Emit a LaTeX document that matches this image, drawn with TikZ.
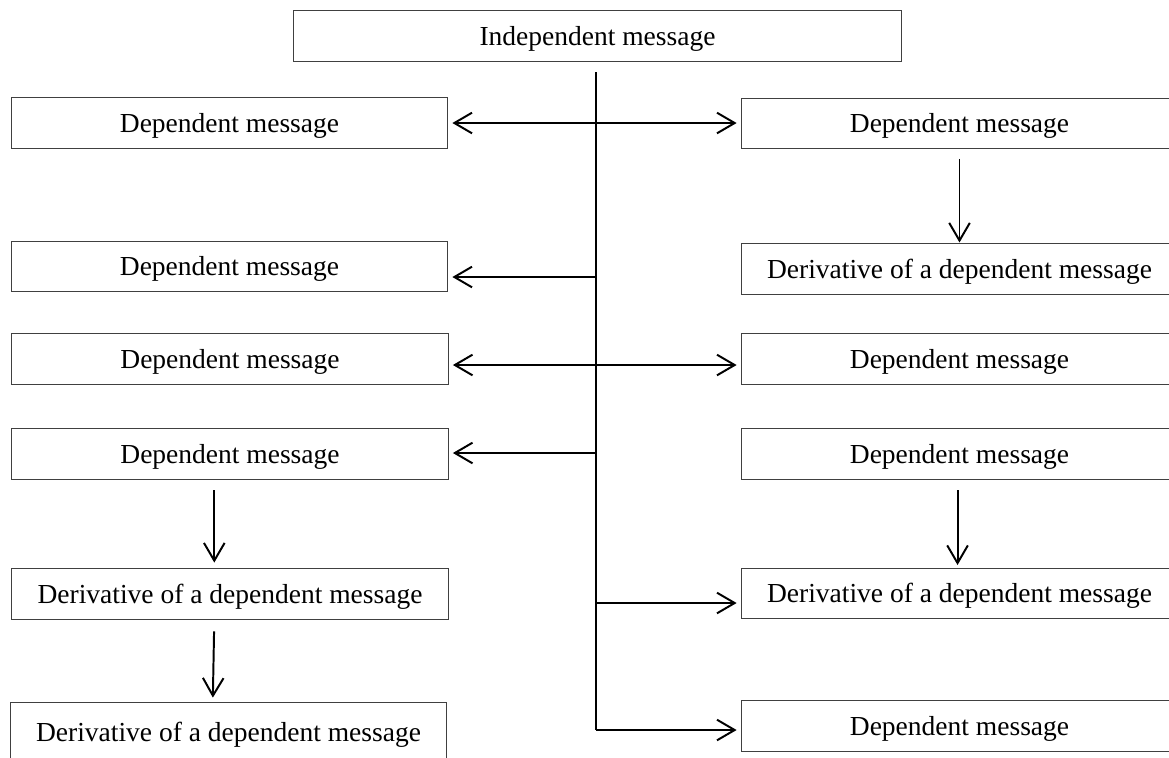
\documentclass[tikz,border=0pt]{standalone}
\usepackage{fontspec}
\setmainfont{Liberation Serif}
\usetikzlibrary{arrows.meta}

\tikzset{
  msgbox/.style={rectangle, draw=black!75, line width=0.5pt, inner sep=0pt,
    minimum width=222.4pt, minimum height=25.5pt, text height=9.6pt, text depth=0pt,
    font=\fontsize{14pt}{16pt}\selectfont},
  link/.style={line width=1pt, >={Straight Barb[length=9pt,width=10.5pt]}}
}

\begin{document}
\begin{tikzpicture}[x=0.509pt, y=-0.509pt]
            \fill[white] (0,0) rectangle (1169,757);
            \useasboundingbox (0,0) rectangle (1169,757);

            \coordinate (s0) at (596,72);
            \coordinate (s2) at (596,277);
            \coordinate (s3) at (596,365);
            \coordinate (s4) at (596,453);
            \coordinate (s5) at (596,603);
            \coordinate (s6) at (596,730);

            \node[msgbox, minimum width=309pt] (ind) at (597.5,36) {Independent message};

            \node[msgbox] (l1) at (229.5,123) {Dependent message};
            \node[msgbox] (l2) at (229.5,266.5) {Dependent message};
            \node[msgbox] (l3) at (230,359) {Dependent message};
            \node[msgbox] (l4) at (230,454) {Dependent message};
            \node[msgbox] (l5) at (230,594) {Derivative of a dependent message};
            \node[msgbox, minimum height=30.5pt] (l6) at (228.5,732) {Derivative of a dependent message};

            % right column runs off the page
            \node[msgbox] (r1) at (959.5,123.5) {Dependent message};
            \node[msgbox] (r2) at (959.5,269) {Derivative of a dependent message};
            \node[msgbox] (r3) at (959.5,359) {Dependent message};
            \node[msgbox] (r4) at (959.5,454) {Dependent message};
            \node[msgbox] (r5) at (959.5,593.5) {Derivative of a dependent message};
            \node[msgbox] (r6) at (959.5,726) {Dependent message};

            \draw[link] (s0)--(s6);

            \draw[link,<->,shorten <=2pt,shorten >=2pt] (l1.east)--(r1.west |- l1.east);
            \draw[link,->,shorten >=2pt] (s2)--(l2.east |- s2);
            \draw[link,<->,shorten <=2pt,shorten >=2pt] (l3.east |- s3)--(r3.west |- s3);
            \draw[link,->,shorten >=2pt] (s4)--(l4.east |- s4);
            \draw[link,->,shorten >=2pt] (s5)--(r5.west |- s5);
            \draw[link,->,shorten >=2pt] (s6)--(r6.west |- s6);

            \draw[link,->,shorten <=5pt,shorten >=0.5pt] (r1.south)--(r2.north);
            \draw[link,->,shorten <=5.5pt,shorten >=1.5pt] ([xshift=-1pt]r4.south)--([xshift=-1pt]r5.north);
            \draw[link,->,shorten <=5.5pt,shorten >=3pt] ([xshift=-8pt]l4.south)--([xshift=-8pt]l5.north); % off centre, as drawn
            \draw[link,->,shorten <=6pt,shorten >=2pt] ([xshift=-8pt]l5.south)--([xshift=-8pt]l6.north);
        \end{tikzpicture}
\end{document}
